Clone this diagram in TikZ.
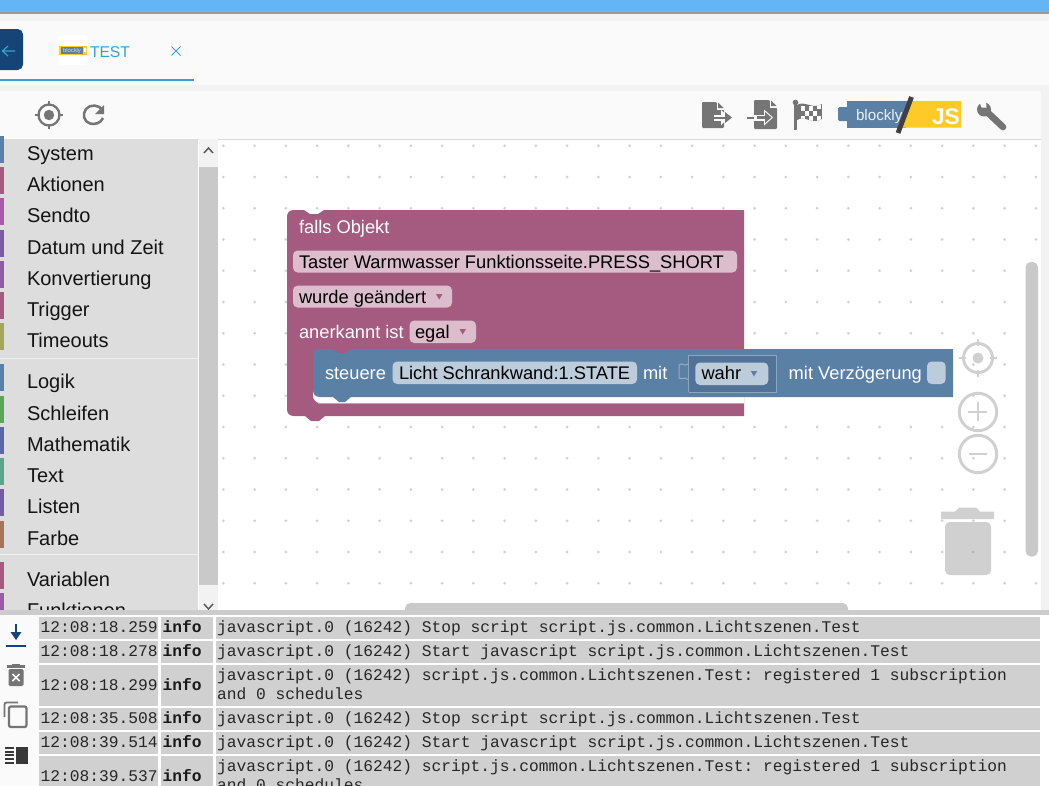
\documentclass[tikz,border=0pt]{standalone}
\usepackage{fontspec}
\setmainfont{Liberation Sans}
\setmonofont{Liberation Mono}
\definecolor{pinkblk}{HTML}{A55B80}
\definecolor{blueblk}{HTML}{5B80A5}
\definecolor{pinkfld}{HTML}{DBBDCC}
\definecolor{bluefld}{HTML}{BDCCDB}
\definecolor{darkfld}{HTML}{527398}
\definecolor{sidegray}{HTML}{DDDDDD}
\definecolor{rowgray}{HTML}{D0D0D0}
\definecolor{scrollgray}{HTML}{C9C9C9}
\definecolor{icongray}{HTML}{757575}
\definecolor{ctrlgray}{HTML}{D0D0D0}
\definecolor{tabblue}{HTML}{369FD8}
\definecolor{navy}{HTML}{164477}
\definecolor{jsyellow}{HTML}{FFCA28}
\definecolor{topblue}{HTML}{64B5F6}
\definecolor{paper}{HTML}{FAFAFA}
\definecolor{softgray}{HTML}{F2F2F2}
\tikzset{
  x=.75pt,y=-.75pt,
  txt/.style={inner sep=0pt,outer sep=0pt,anchor=base west},
  menutext/.style={txt,font=\fontsize{15}{18}\selectfont,text=black!92},
  blocktext/.style={txt,font=\fontsize{13.72}{16}\selectfont,text=white},
  fieldtext/.style={txt,font=\fontsize{13.72}{16}\selectfont,text=black},
  logtext/.style={txt,font=\ttfamily\fontsize{12.19}{14}\selectfont,text=black!85},
  logbold/.style={txt,font=\ttfamily\bfseries\fontsize{12.19}{14}\selectfont,text=black!90},
  ctrl/.style={draw=ctrlgray,line width=2.2pt},
}
\begin{document}
\begin{tikzpicture}
\clip (0,0) rectangle (1049,785);
\fill[white] (0,0) rectangle (1049,785);
% --- top bars
\fill[softgray] (0,12) rectangle (1049,22);
\fill[topblue] (0,0) rectangle (1049,12);
\fill[black!40] (0,12) rectangle (1049,13.5);
\fill[paper] (0,21) rectangle (1049,85);
\fill[softgray] (0,85) rectangle (1049,91);
\fill[paper] (0,91) rectangle (1049,139);
\fill[black!15] (0,139) rectangle (1041,140);
% --- tab
\fill[navy,rounded corners=4pt] (-10,29) rectangle (23,70);
\draw[tabblue,line width=.9pt] (15,51) -- (3,51) (8,46) -- (2.5,51) -- (8,56);
\fill[white,rounded corners=3pt] (58,35) rectangle (88,65);
\fill[jsyellow] (59,45.5) rectangle (87,55);
\fill[blueblk] (60.5,46.5) rectangle (83,54);
\fill[white] (84,48) rectangle (85.5,52);
\node[txt,font=\fontsize{4.4}{5}\selectfont,text=white!70!blueblk] (logosmall) at (63,52) {blockly};
\node[txt,font=\fontsize{11.7}{14}\selectfont,text=tabblue] (tabtest) at (90,57) {TEST};
\draw[tabblue,line width=.7pt] (171.5,46.5) -- (180.5,55.5) (180.5,46.5) -- (171.5,55.5);
\fill[tabblue] (0,79) rectangle (194,81);
% --- left toolbar icons
\draw[icongray,line width=1.7pt] (49,115) circle[radius=10.5];
\fill[icongray] (49,115) circle[radius=5.2];
\draw[icongray,line width=1.7pt] (49,101) -- (49,106) (49,124) -- (49,129) (35,115) -- (40,115) (58,115) -- (63,115);
\draw[icongray,line width=1.9pt] (102.5,110) .. controls (99,104.5) and (90,104) .. (86,109) .. controls (82,114) and (84,122) .. (90,123.5) .. controls (95,125) and (101,123) .. (103,118);
\fill[icongray] (104,105) -- (104,114) -- (95,114) -- cycle;
% --- right toolbar icons: export
\fill[icongray,rounded corners=.8pt] (702,102) -- (716,102) -- (724,110) -- (724,128) -- (702,128) -- cycle;
\fill[paper] (716.5,102) -- (716.5,109.5) -- (724,109.5) -- (724,102) -- cycle;
\fill[icongray] (718,102.5) -- (718,108) -- (723.5,108) -- cycle;
\fill[paper] (714,114.5) rectangle (725,120.5);
\fill[paper] (721,110) -- (729,117.5) -- (721,125) -- cycle;
\fill[icongray] (713,116.5) rectangle (726,118.5);
\fill[icongray] (725,112) -- (732,117.5) -- (725,123) -- cycle;
% import
\fill[icongray,rounded corners=.8pt] (754,100) -- (769,100) -- (777,108) -- (777,129) -- (754,129) -- cycle;
\fill[paper] (769.5,100) -- (769.5,107.5) -- (777,107.5) -- (777,100) -- cycle;
\fill[icongray] (771,100.5) -- (771,106) -- (776.5,106) -- cycle;
\fill[paper] (747,114.5) rectangle (768,120.5);
\fill[paper] (764,109.5) -- (773,117.5) -- (764,125.5) -- cycle;
\fill[icongray] (747,116.5) rectangle (754,118.5);
\fill[icongray] (757,116) rectangle (766,119);
\fill[icongray] (765,112) -- (771.5,117.5) -- (765,123) -- cycle;
% flag
\fill[icongray] (794,103) rectangle (797,130);
\fill[icongray] (795.5,102.5) circle[radius=2.8];
\begin{scope}
\path[clip] (797,105) .. controls (805,100) and (812,110) .. (822,104) -- (822,119) .. controls (812,125) and (805,115) .. (797,120) -- cycle;
\fill[icongray] (797,100) rectangle (822,125);
\foreach \cx/\cy in {801/106,809/106,817/104,805/111,813/111,801/116,809/116,817/116}{
  \fill[white] (\cx,\cy) rectangle ++(4,4.5);
}
\end{scope}
% logo
\fill[blueblk] (847,101) rectangle (906,127.5);
\fill[blueblk,rounded corners=1pt] (838,107) rectangle (848,121);
\fill[jsyellow] (906,101) -- (961,101) -- (961,127.5) -- (898,127.5) -- cycle;
\fill[blueblk] (847,101) -- (909,101) -- (899,127.5) -- (847,127.5) -- cycle;
\draw[black!75,line width=3.6pt] (911.5,97) -- (898,133);
\node[txt,font=\fontsize{11.4}{14}\selectfont,text=white!88!blueblk] (logoblockly) at (856,120) {blockly};
\node[txt,font=\bfseries\fontsize{17}{20}\selectfont,text=white] (logojs) at (932,124) {JS};
% wrench
\draw[icongray,line width=5pt,line cap=round] (986,111) -- (1003,127);
\fill[icongray] (984,109.5) circle[radius=7];
\fill[paper] (979,101) -- (986,101) -- (986.5,107.5) -- (981.5,107.5) -- cycle;
% --- grid dots
\foreach \i in {0,...,26}{
  \foreach \j in {0,...,14}{
    \fill[black!18] ({223.4+31.25*\i},{145.8+31.25*\j}) circle[radius=1.5];
  }
}
% --- right strip and scrollbars
\fill[softgray] (1041,91) rectangle (1049,615);
\fill[scrollgray,rounded corners=4pt] (1025.5,262) rectangle (1038,556.5);
\fill[scrollgray,rounded corners=4pt] (405,603) rectangle (848,620);
% --- zoom controls
\draw[ctrl] (978,358) circle[radius=14.5];
\fill[ctrlgray] (978,358) circle[radius=5.5];
\draw[ctrl] (978,339) -- (978,346) (978,370) -- (978,377) (959,358) -- (966,358) (990,358) -- (997,358);
\draw[ctrl] (978,412) circle[radius=18.7];
\draw[ctrl] (978,402) -- (978,421) (968,412) -- (987,412);
\draw[ctrl] (978,454) circle[radius=18.7];
\draw[ctrl] (969,454) -- (987,454);
% --- trash
\fill[ctrlgray] (941,511.5) -- (955,511.5) -- (959,507.5) -- (976,507.5) -- (980,511.5) -- (994,511.5) -- (994,519) -- (941,519) -- cycle;
\fill[ctrlgray,rounded corners=3.5pt] (945,522) -- (991,522) -- (991,575) -- (945,575) -- cycle;
\fill[black!30] (973,552) circle[radius=1.5];
% --- Sidebar
\fill[sidegray] (0,139) rectangle (198,612);
\fill[softgray] (199,139) rectangle (218,612);
\fill[scrollgray] (199,167) rectangle (218,585);
\draw[black!65,line width=1.1pt] (204,153) -- (208.5,148) -- (213,153);
\draw[black!65,line width=1.1pt] (204,604) -- (208.5,609) -- (213,604);
\fill[black!6] (0,358) rectangle (198,359);
\fill[black!6] (0,554) rectangle (198,555);
\foreach \n/\lab/\b/\c in {%
 sys/System/160/5B80A5, akt/Aktionen/191/A55B80, sen/Sendto/222/A55BA5,
 dat/Datum und Zeit/254/7A5BA5, kon/Konvertierung/285/8E5BA5, tri/Trigger/316/A55B80,
 tim/Timeouts/347/A5A55B, log/Logik/388/5B80A5, sch/Schleifen/420/5BA55B,
 mat/Mathematik/451/5B67A5, tex/Text/482/5BA58C, lis/Listen/513/745BA5,
 far/Farbe/545/A5745B, var/Variablen/586/A55B80, fun/Funktionen/617/995BA5}{
  \definecolor{bandc}{HTML}{\c}
  \fill[bandc] (0,\b-24) rectangle (4,\b+3);
  \node[menutext] (menu\n) at (27,\b) {\lab};
}
% --- pink block
\fill[pinkblk] (287,217) .. controls (287,212.5) and (289.5,210) .. (294,210) -- (304,210) -- (310,214) -- (318,214) -- (324,210) -- (744,210) -- (744,416) -- (325,416) -- (319,421) -- (311,421) -- (305,416) -- (294,416) .. controls (289.5,416) and (287,413.5) .. (287,409) -- cycle;
\fill[white] (313,375) rectangle (744,402.5);
\fill[pinkfld!70!pinkblk] (318,402.5) rectangle (744,403.5);
\fill[pinkblk] (313,396) -- (313,403) -- (320,403) .. controls (316,403) and (313,400) .. (313,396) -- cycle;
\fill[pinkfld,rounded corners=3.5pt] (293,250.5) rectangle (737,272.5);
\fill[pinkfld,rounded corners=3.5pt] (293,285.5) rectangle (452,307.5);
\fill[pinkfld,rounded corners=3.5pt] (409.5,320.5) rectangle (476,343);
\node[blocktext] (falls) at (299,233) {falls Objekt};
\node[fieldtext] (taster) at (299,268) {Taster Warmwasser Funktionsseite.PRESS\_SHORT};
\node[fieldtext] (wurde) at (299,303) {wurde geändert};
\fill[pinkblk] (436,294) -- (442.5,294) -- (439.2,299.5) -- cycle;
\node[blocktext] (anerkannt) at (299,338) {anerkannt ist};
\node[fieldtext] (egal) at (415,338) {egal};
\fill[pinkblk] (459.5,329) -- (466,329) -- (462.7,334.5) -- cycle;
% --- blue block
\fill[blueblk] (313,356) .. controls (313,351.5) and (315.5,349) .. (320,349) -- (333,349) -- (339,353) -- (345,353) -- (351,349) -- (953,349) -- (953,397) -- (351,397) -- (345,402) -- (339,402) -- (333,397) -- (320,397) .. controls (315.5,397) and (313,394.5) .. (313,390) -- cycle;
\node[blocktext] (steuere) at (325,379) {steuere};
\fill[bluefld,rounded corners=3.5pt] (392.5,361.5) rectangle (637,384);
\node[fieldtext] (licht) at (399,379) {Licht Schrankwand:1.STATE};
\node[blocktext] (mit) at (643,379) {mit};
% socket + shadow block
\draw[white!35!blueblk,line width=.75pt] (688.7,364) .. controls (684,367) and (683,362) .. (679,365) -- (679,378) .. controls (683,380) and (684,376) .. (688.7,380);
\fill[darkfld] (688.7,355.7) rectangle (776.7,392.3);
\draw[white!30!blueblk,line width=.75pt] (688.7,392.3) -- (688.7,355.7) -- (776.7,355.7) -- (776.7,392.3) -- (688.7,392.3);
\fill[bluefld,rounded corners=3.5pt] (695.3,362.5) rectangle (768.3,385);
\node[fieldtext] (wahr) at (701.5,379) {wahr};
\fill[blueblk] (750.7,371) -- (757.2,371) -- (754,376.5) -- cycle;
\node[blocktext] (verz) at (788.7,379) {mit Verzögerung};
\fill[bluefld,rounded corners=3.5pt] (927,361.5) rectangle (945.7,384);
% --- log panel
\fill[white] (0,610) rectangle (1049,785);
\fill[black!20] (0,610) rectangle (1049,615);
\fill[paper] (0,615) rectangle (39,785);
\foreach \t/\bt in {616.5/639,640.7/663,664.7/706,707.7/729.7,732/753.7,755.7/790}{
  \fill[rowgray] (39,\t) rectangle (158,\bt);
  \fill[rowgray] (161,\t) rectangle (213,\bt);
  \fill[rowgray] (216,\t) rectangle (1040,\bt);
}
\foreach \n/\tm/\b in {a/12:08:18.259/632, b/12:08:18.278/656, c/12:08:18.299/690, d/12:08:35.508/723, e/12:08:39.514/747, f/12:08:39.537/781}{
  \node[logtext] (time\n) at (40.5,\b) {\tm};
  \node[logbold] (lvl\n) at (162.5,\b) {info};
}
\node[logtext] (msga) at (217,632) {javascript.0 (16242) Stop script script.js.common.Lichtszenen.Test};
\node[logtext] (msgb) at (217,656) {javascript.0 (16242) Start javascript script.js.common.Lichtszenen.Test};
\node[logtext] (msgc) at (217,680) {javascript.0 (16242) script.js.common.Lichtszenen.Test: registered 1 subscription};
\node[logtext] (msgcc) at (217,699) {and 0 schedules};
\node[logtext] (msgd) at (217,723) {javascript.0 (16242) Stop script script.js.common.Lichtszenen.Test};
\node[logtext] (msge) at (217,747) {javascript.0 (16242) Start javascript script.js.common.Lichtszenen.Test};
\node[logtext] (msgf) at (217,771) {javascript.0 (16242) script.js.common.Lichtszenen.Test: registered 1 subscription};
\node[logtext] (msgff) at (217,790) {and 0 schedules};
% --- log icons
\fill[navy] (14.8,624) rectangle (17.2,637);
\fill[navy] (10.5,632) -- (21.5,632) -- (16,640) -- cycle;
\fill[navy] (6,644.5) rectangle (26,646.8);
% trash icon
\fill[icongray] (7,665) rectangle (25,668);
\fill[icongray] (12,663.5) rectangle (20,666);
\fill[icongray,rounded corners=1pt] (8.5,669) rectangle (23.5,686);
\draw[white,line width=1.3pt] (12.5,674) -- (19.5,681) (19.5,674) -- (12.5,681);
% copy icon
\draw[icongray,line width=1.4pt,rounded corners=1.5pt] (4.5,717) -- (4.5,702.5) -- (18,702.5);
\draw[icongray,line width=1.7pt,rounded corners=1.5pt] (9,706.5) rectangle (26.5,727);
% list icon
\fill[black!78] (16,746.5) rectangle (27.5,763.5);
\foreach \yy in {747.5,751.5,755,759,762.5}{
  \fill[black!78] (4.5,\yy-1) rectangle (14,\yy+1);
}
\end{tikzpicture}
\end{document}
